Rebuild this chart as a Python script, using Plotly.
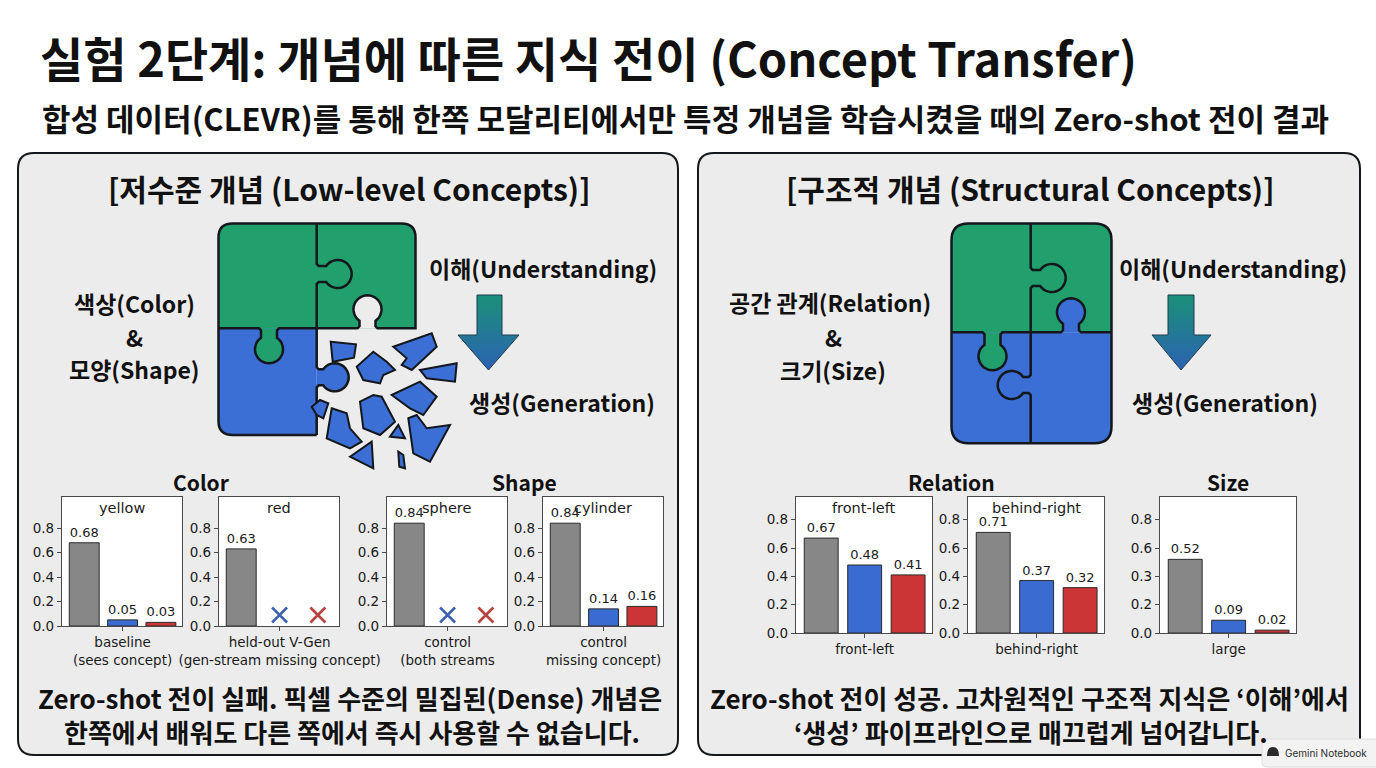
import math
import plotly.graph_objects as go

W, H = 1376, 768

# ---- chart data ----
left_concepts = ["yellow", "red", "sphere", "cylinder"]
left_groups = ["baseline<br>(sees concept)", "held-out V-Gen<br>(gen-stream missing concept)",
               "control<br>(both streams", "control<br>missing concept)"]
left_baseline = [0.68, 0.63, 0.84, 0.84]
left_understand = [0.05, None, None, 0.14]
left_generate = [0.03, None, None, 0.16]

right_concepts = ["front-left", "behind-right", ""]
right_groups = ["front-left", "behind-right", "large"]
right_baseline = [0.67, 0.71, 0.52]
right_understand = [0.48, 0.37, 0.09]
right_generate = [0.41, 0.32, 0.02]

y_ticks = [0.0, 0.2, 0.4, 0.6, 0.8]
y_ticktext = ["0.0", "0.2", "0.4", "0.6", "0.8"]
y_ticktext_size = ["0.0", "0.2", "0.3", "0.6", "0.8"]   # as printed in the source

# ---- style ----
KR = "Noto Sans CJK KR"
MPL = "DejaVu Sans"
INK = "#14171c"
PANEL = "#ececec"
GREEN = "#21a06e"
BLUE = "#3c6fd5"
BAR_COLORS = ["#878787", "#3a6bd0", "#cc3535"]
MISS_COLORS = ["#3d62b0", "#b8443f"]
MISS_Y = 0.09

left_frames = [(62, 182), (219, 339), (387, 507), (543, 663)]
left_ybox = (497, 626)
right_frames = [(796, 932), (968, 1104), (1160, 1296)]
right_ybox = (497, 633)

fig = go.Figure()


def shape(path, fill="rgba(0,0,0,0)", color=INK, width=0):
    fig.add_shape(type="path", path=path, xref="x", yref="y", fillcolor=fill,
                  line=dict(color=color, width=width), layer="below")


def label(x, y, text, size, anchor="center", family=KR, bold=True, color="#111"):
    fig.add_annotation(x=x, y=y, xref="x", yref="y", text=f"<b>{text}</b>" if bold else text,
                       showarrow=False, xanchor=anchor, yanchor="middle",
                       font=dict(family=family, size=size, color=color))


def poly(pts, close=True):
    s = "M " + " L ".join(f"{x:.1f},{y:.1f}" for x, y in pts)
    return s + (" Z" if close else "")


def rrect(x0, y0, x1, y1, r):
    return (f"M {x0+r},{y0} L {x1-r},{y0} Q {x1},{y0} {x1},{y0+r} L {x1},{y1-r} "
            f"Q {x1},{y1} {x1-r},{y1} L {x0+r},{y1} Q {x0},{y1} {x0},{y1-r} "
            f"L {x0},{y0+r} Q {x0},{y0} {x0+r},{y0} Z")


def top_half(x0, y0, x1, my, r):
    return (f"M {x0},{my} L {x0},{y0+r} Q {x0},{y0} {x0+r},{y0} L {x1-r},{y0} "
            f"Q {x1},{y0} {x1},{y0+r} L {x1},{my} Z")


def bottom_half(x0, my, x1, y1, r):
    return (f"M {x0},{my} L {x1},{my} L {x1},{y1-r} Q {x1},{y1} {x1-r},{y1} "
            f"L {x0+r},{y1} Q {x0},{y1} {x0},{y1-r} Z")


def knob(a, b, t, n, d=34, r=14, h=8, steps=30):
    ax, ay = a
    bx, by = b
    ln = math.hypot(bx - ax, by - ay)
    ex, ey = (bx - ax) / ln, (by - ay) / ln
    nx, ny = n

    def p(u, v):
        return (ax + (t + u) * ex + v * nx, ay + (t + u) * ey + v * ny)

    s = math.sqrt(r * r - h * h)
    v0 = d - r - s
    ps = math.atan2(-s, -h) + 2 * math.pi
    pe = math.atan2(-s, h)
    pts = [p(-h - 2, 0), p(-h, 2), p(-h, v0)]
    for i in range(1, steps):
        f = ps + (pe - ps) * i / steps
        pts.append(p(r * math.cos(f), d - r + r * math.sin(f)))
    pts += [p(h, v0), p(h, 2), p(h + 2, 0)]
    return pts


def edge(a, b, knobs):
    pts = [a]
    for k in knobs:
        pts += knob(a, b, **k)
    return pts + [b]


# ---- panels ----
shape(rrect(18, 153, 678, 755, 16), fill=PANEL, color=INK, width=2)
shape(rrect(698, 153, 1360, 755, 16), fill=PANEL, color=INK, width=2)

for (x0, x1) in left_frames:
    fig.add_shape(type="rect", x0=x0, x1=x1, y0=left_ybox[0], y1=left_ybox[1], xref="x", yref="y",
                  fillcolor="white", line=dict(width=0), layer="below")
for (x0, x1) in right_frames:
    fig.add_shape(type="rect", x0=x0, x1=x1, y0=right_ybox[0], y1=right_ybox[1], xref="x", yref="y",
                  fillcolor="white", line=dict(width=0), layer="below")

# ---- left puzzle (broken) ----
L, R, T, B, MX, MY, RR = 218.5, 415.5, 223.5, 435, 316.7, 328.3, 14
shape(top_half(L, T, R, MY, RR), fill=GREEN)
shape(bottom_half(L, MY, MX, B, RR).replace(f"L {MX},{B-RR} Q {MX},{B} {MX-RR},{B}", f"L {MX},{B}"), fill=BLUE)
shape(poly(knob((MX, MY), (MX, B), t=49, n=(1, 0), d=32)), fill=BLUE)
shape(poly(knob((L, MY), (MX, MY), t=269 - L, n=(0, 1), d=35)), fill=GREEN)
shape(poly(knob((R, MY), (MX, MY), t=R - 367.5, n=(0, -1), d=33)), fill=PANEL)

outer = (f"M {MX},{B} L {L+RR},{B} Q {L},{B} {L},{B-RR} L {L},{T+RR} Q {L},{T} {L+RR},{T} "
         f"L {R-RR},{T} Q {R},{T} {R},{T+RR} L {R},{MY} ")
sock = edge((R, MY), (MX, MY), [dict(t=R - 367.5, n=(0, -1), d=33)])
outer += " ".join(f"L {x:.1f},{y:.1f}" for x, y in sock)
shape(outer, color=INK, width=2.5)
shape(poly(edge((MX, T), (MX, MY), [dict(t=274 - T, n=(1, 0), d=35)]), close=False), width=2.5)
shape(poly(edge((L, MY), (MX, MY), [dict(t=269 - L, n=(0, 1), d=35)]), close=False), width=2.5)
shape(poly(edge((MX, MY), (MX, B), [dict(t=49, n=(1, 0), d=32)]), close=False), width=2.5)

shards = [
    [(330.7, 341.7), (356, 344.3), (354, 357.7), (332.7, 361.7)],
    [(393.3, 346.7), (431.7, 333.3), (436.7, 346.7), (411.7, 370), (401.7, 365), (406.7, 358.3)],
    [(356.7, 366.7), (373.3, 351.7), (386.7, 361.7), (395, 370), (383.3, 375), (380, 383.3), (363.3, 380)],
    [(420, 370), (456.7, 363.3), (455, 381.7), (426.7, 378.3)],
    [(391.7, 395), (420, 381.7), (436.7, 396.7), (423.3, 415), (410, 408.3)],
    [(311.7, 406.7), (320, 400), (328.3, 403.3), (323.3, 418.3), (316.7, 415)],
    [(331.7, 408.3), (346.7, 413.3), (350, 428.3), (361.7, 441.7), (350, 448.3), (326.7, 438.3)],
    [(360, 401.7), (373.3, 395), (381.7, 396.7), (395, 421.7), (380, 435), (363.3, 428.3)],
    [(408.3, 418.3), (416.7, 415), (426.7, 428.3), (450, 425), (430, 461.7), (413.3, 453.3)],
    [(350, 456.7), (371.7, 441.7), (373.3, 468.3)],
    [(390, 436.7), (398.3, 425), (405, 438.3)],
    [(398.3, 451.7), (403.3, 455), (405, 468.3), (399.3, 466.7)],
]
for s in shards:
    shape(poly(s), fill=BLUE, color=INK, width=2)

# ---- right puzzle (intact) ----
L2, R2, T2, B2, MX2, MY2, RR2 = 951.5, 1111.5, 223.5, 443.3, 1030.7, 332.3, 17
shape(top_half(L2, T2, R2, MY2, RR2), fill=GREEN)
shape(bottom_half(L2, MY2, R2, B2, RR2), fill=BLUE)
shape(poly(knob((L2, MY2), (MX2, MY2), t=992.5 - L2, n=(0, 1), d=38)), fill=GREEN)
shape(poly(knob((MX2, MY2), (R2, MY2), t=1071 - MX2, n=(0, -1), d=34)), fill=BLUE)
shape(poly(edge((MX2, T2), (MX2, MY2), [dict(t=278 - T2, n=(1, 0), d=35)]), close=False), width=2.5)
shape(poly(edge((MX2, MY2), (MX2, B2), [dict(t=385 - MY2, n=(-1, 0), d=33)]), close=False), width=2.5)
shape(poly(edge((L2, MY2), (MX2, MY2), [dict(t=992.5 - L2, n=(0, 1), d=38)]), close=False), width=2.5)
shape(poly(edge((MX2, MY2), (R2, MY2), [dict(t=1071 - MX2, n=(0, -1), d=34)]), close=False), width=2.5)
shape(rrect(L2, T2, R2, B2, RR2), color=INK, width=2.5)

# ---- gradient arrows ----
for (sx0, sx1, hx0, hx1, tip) in [(477, 502, 458, 519, 488.5), (1168, 1194, 1152, 1211, 1181)]:
    xs = [sx0, sx1, sx1, hx1, tip, hx0, sx0, sx0]
    ys = [295, 295, 335, 335, 370, 335, 335, 295]
    fig.add_trace(go.Scatter(x=xs, y=ys, mode="lines", fill="toself",
                             line=dict(color="#1d3c4c", width=1),
                             fillgradient=dict(type="vertical", start=295, stop=370,
                                               colorscale=[[0, "#1b9078"], [1, "#2c62b3"]]),
                             hoverinfo="skip", showlegend=False))

# ---- bar subplots ----
def add_bar_panel(n, frame, ybox, vals, title, group, yrange, ticktext):
    xa, ya = f"x{n}", f"y{n}"
    x0, x1 = frame
    y0, y1 = ybox
    fig.add_trace(go.Bar(
        x=[0, 1, 2], y=vals, width=0.78,
        marker=dict(color=BAR_COLORS, line=dict(color="#2a2a2a", width=1)),
        text=[f"{v:.2f}" if v is not None else "" for v in vals],
        textposition="outside", constraintext="none", cliponaxis=False,
        textfont=dict(family=MPL, size=13, color="#1a1a1a"),
        hoverinfo="skip", showlegend=False, xaxis=xa, yaxis=ya))
    for k in (1, 2):
        if vals[k] is None:
            fig.add_trace(go.Scatter(
                x=[k], y=[MISS_Y], mode="markers", cliponaxis=False,
                marker=dict(symbol="x-thin", size=15, line=dict(color=MISS_COLORS[k - 1], width=2.6)),
                hoverinfo="skip", showlegend=False, xaxis=xa, yaxis=ya))
    axis_style = dict(showline=True, mirror=True, linecolor="#4a4a4a", linewidth=1.2,
                      ticks="outside", ticklen=4, tickcolor="#4a4a4a", showgrid=False,
                      zeroline=False, fixedrange=True, automargin=False)
    fig.update_layout({
        f"xaxis{n}": dict(domain=[x0 / W, x1 / W], range=[-0.58, 2.55], anchor=ya,
                          tickvals=[1], ticktext=[group],
                          tickfont=dict(family=MPL, size=13.5, color="#1a1a1a"), **axis_style),
        f"yaxis{n}": dict(domain=[1 - y1 / H, 1 - y0 / H], range=yrange, anchor=xa,
                          tickvals=y_ticks, ticktext=ticktext,
                          tickfont=dict(family=MPL, size=13.5, color="#1a1a1a"), **axis_style),
    })
    if title:
        label((x0 + x1) / 2, y0 + 11, title, 14.5, family=MPL, bold=False, color="#1a1a1a")


for i in range(4):
    add_bar_panel(i + 2, left_frames[i], left_ybox,
                  [left_baseline[i], left_understand[i], left_generate[i]],
                  left_concepts[i], left_groups[i], [0, 1.054], y_ticktext)
for i in range(3):
    add_bar_panel(i + 6, right_frames[i], right_ybox,
                  [right_baseline[i], right_understand[i], right_generate[i]],
                  right_concepts[i], right_groups[i], [0, 0.96],
                  y_ticktext_size if right_groups[i] == "large" else y_ticktext)

# ---- text ----
label(38, 56, "실험 2단계: 개념에 따른 지식 전이 (Concept Transfer)", 47, anchor="left")
label(40, 117, "합성 데이터(CLEVR)를 통해 한쪽 모달리티에서만 특정 개념을 학습시켰을 때의 Zero-shot 전이 결과", 31, anchor="left")

label(349, 188, "[저수준 개념 (Low-level Concepts)]", 30)
label(1030, 188, "[구조적 개념 (Structural Concepts)]", 30)

label(134, 303, "색상(Color)", 23)
label(134, 337, "&", 23)
label(134, 369, "모양(Shape)", 23)
label(543, 268, "이해(Understanding)", 23)
label(562, 402, "생성(Generation)", 23)

label(830, 302, "공간 관계(Relation)", 23)
label(833, 337, "&", 23)
label(833, 370, "크기(Size)", 23)
label(1233, 268, "이해(Understanding)", 23)
label(1225, 402, "생성(Generation)", 23)

label(201, 482, "Color", 21)
label(524, 482, "Shape", 21)
label(951, 482, "Relation", 21)
label(1228, 482, "Size", 21)

label(350, 697, "Zero-shot 전이 실패. 픽셀 수준의 밀집된(Dense) 개념은", 26)
label(352, 731, "한쪽에서 배워도 다른 쪽에서 즉시 사용할 수 없습니다.", 26)
label(1029, 697, "Zero-shot 전이 성공. 고차원적인 구조적 지식은 ‘이해’에서", 26)
label(1031, 731, "‘생성’ 파이프라인으로 매끄럽게 넘어갑니다.", 26)

# ---- badge ----
shape(rrect(1262, 739, 1380, 767, 5), fill="#f3f3f3", color="#dedede", width=1)
shape("M 1267,756 Q 1267,747 1273,747 Q 1279,747 1279,756 Z", fill="#2b2b2b")
label(1283, 753, "Gemini Notebook", 10, anchor="left", family="Inter", bold=False, color="#2b2b2b")

fig.update_layout(
    width=W, height=H, margin=dict(l=0, r=0, t=0, b=0, autoexpand=False),
    paper_bgcolor="white", plot_bgcolor="rgba(0,0,0,0)",
    showlegend=False, bargap=0.2,
    xaxis=dict(domain=[0, 1], range=[0, W], visible=False, fixedrange=True, automargin=False),
    yaxis=dict(domain=[0, 1], range=[H, 0], visible=False, fixedrange=True, automargin=False),
)

# the page body has a default 8px margin; drop it so the figure sits at the window origin
fig.write_html("out.html", config={"displayModeBar": False},
               post_script="document.body.style.margin='0px';")
